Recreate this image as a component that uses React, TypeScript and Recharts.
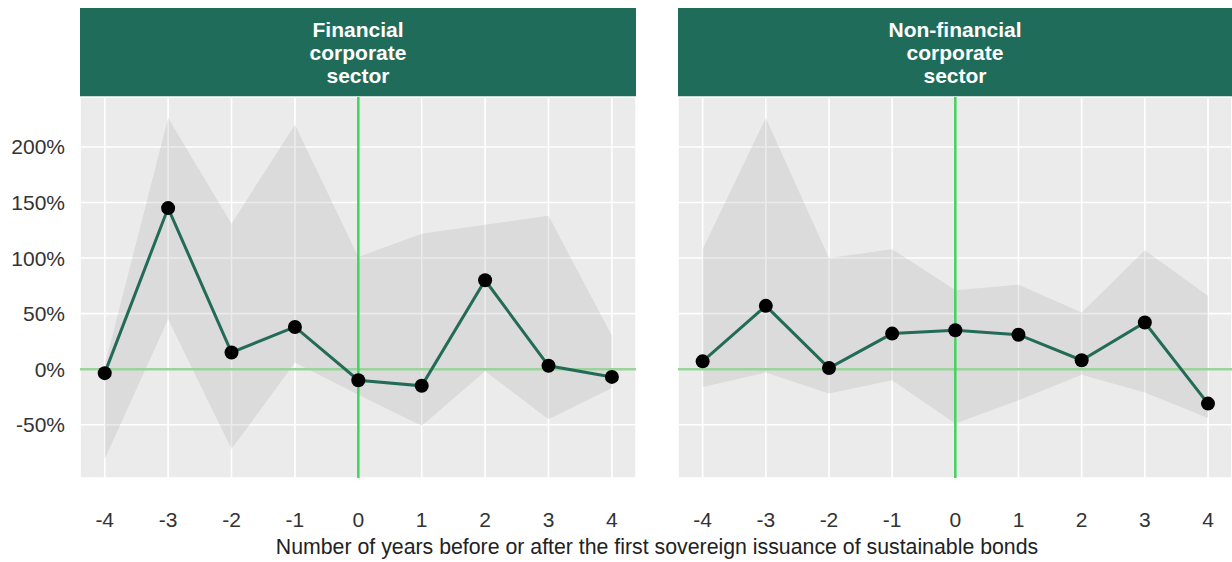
import {
  ComposedChart, Line, XAxis, YAxis, CartesianGrid, ReferenceLine, Area,
} from "recharts";

const years = [-4, -3, -2, -1, 0, 1, 2, 3, 4];

// Financial corporate sector
const finEst = [-3.6, 145, 15, 38, -10, -15, 80, 3, -7];
const finLow = [-81, 45, -72, 6, -23, -51, -2, -45, -17];
const finHigh = [3, 226, 131, 220, 101, 122, 130, 138, 30];

// Non-financial corporate sector
const nonEst = [7, 57, 1, 32, 35, 31, 8, 42, -31];
const nonLow = [-16, -3, -22, -10, -49, -28, -5, -21, -44];
const nonHigh = [108, 226, 100, 108, 71, 76, 51, 107, 66];

const yTicks = [-50, 0, 50, 100, 150, 200];

const HEADER = "#1F6C5A";
const LINE = "#236B57";
const FONT = "'Liberation Sans', Arial, sans-serif";

function build(est: number[], low: number[], high: number[]) {
  return years.map((y, i) => ({ year: y, est: est[i], band: [low[i], high[i]] }));
}

interface PanelProps {
  title: string[];
  data: { year: number; est: number; band: number[] }[];
  left: number;
  width: number;
  showY: boolean;
}

function Panel({ title, data, left, width, showY }: PanelProps) {
  const yW = showY ? 80 : 0;
  return (
    <div style={{ position: "absolute", left, top: 0, width, height: 562 }}>
      <div
        style={{
          position: "absolute", left: yW, top: 8, width: width - yW, height: 89,
          background: HEADER, color: "#fff", fontFamily: FONT, fontWeight: 700,
          fontSize: 21, lineHeight: "23px", textAlign: "center",
          display: "flex", flexDirection: "column", justifyContent: "center",
        }}
      >
        {title.map((t) => <div key={t}>{t}</div>)}
      </div>
      <ComposedChart
        width={width}
        height={562}
        data={data}
        margin={{ top: 97, right: 0, bottom: 0, left: 0 }}
        style={{ position: "absolute", left: 0, top: 0 }}
      >
        <CartesianGrid fill="#EBEBEB" stroke="#FFFFFF" strokeWidth={1.6} />
        <XAxis
          dataKey="year"
          type="number"
          domain={[-4.39, 4.38]}
          ticks={years}
          allowDataOverflow
          axisLine={false}
          tickLine={false}
          tickSize={0}
          tickMargin={34}
          tick={{ fill: "#333333", fontSize: 21, fontFamily: FONT }}
          height={84}
        />
        <YAxis
          hide={!showY}
          type="number"
          domain={[-98, 245]}
          ticks={yTicks}
          allowDataOverflow
          axisLine={false}
          tickLine={false}
          tickSize={0}
          tickMargin={15}
          width={yW}
          tickFormatter={(v) => `${v}%`}
          tick={{ fill: "#333333", fontSize: 21, fontFamily: FONT }}
        />
        <Area
          dataKey="band"
          type="linear"
          stroke="none"
          fill="#999999"
          fillOpacity={0.2}
          isAnimationActive={false}
        />
        <ReferenceLine y={0} stroke="#9AD49B" strokeWidth={2.5} />
        <ReferenceLine x={0} stroke="#3FD45A" strokeWidth={2.5} />
        <Line
          dataKey="est"
          type="linear"
          stroke={LINE}
          strokeWidth={3}
          dot={{ r: 7, fill: "#000", stroke: "#000", strokeWidth: 0 }}
          activeDot={false}
          isAnimationActive={false}
        />
      </ComposedChart>
    </div>
  );
}

export default function App() {
  return (
    <div style={{ position: "absolute", left: 0, top: 0, width: 1232, height: 562, background: "#fff", overflow: "hidden" }}>
      <Panel
        title={["Financial", "corporate", "sector"]}
        data={build(finEst, finLow, finHigh)}
        left={0}
        width={636}
        showY
      />
      <Panel
        title={["Non-financial", "corporate", "sector"]}
        data={build(nonEst, nonLow, nonHigh)}
        left={678}
        width={554}
        showY={false}
      />
      <div
        style={{
          position: "absolute", left: 0, width: 1314, top: 535, textAlign: "center",
          fontFamily: FONT, fontSize: 21.3, color: "#222",
        }}
      >
        Number of years before or after the first sovereign issuance of sustainable bonds
      </div>
    </div>
  );
}
